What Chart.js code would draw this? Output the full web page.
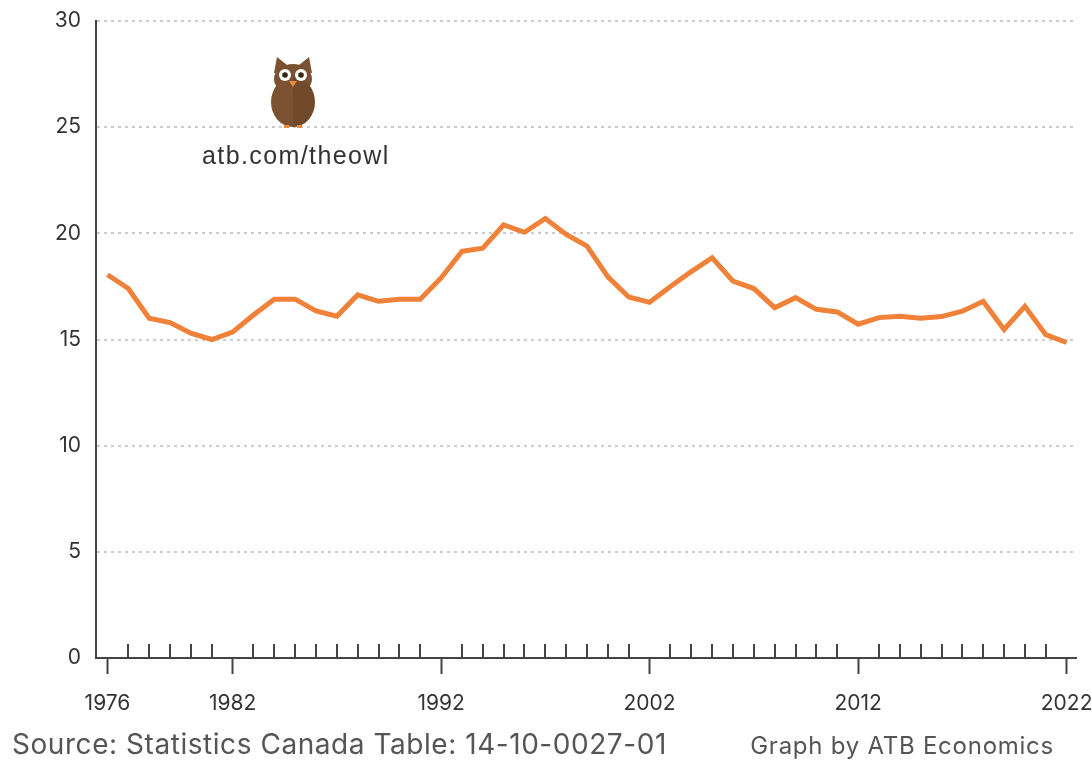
<!DOCTYPE html>
<html>
<head>
<meta charset="utf-8">
<script src="https://cdn.jsdelivr.net/npm/chart.js@4/dist/chart.umd.min.js"></script>
<style>
  html, body { margin: 0; padding: 0; background: #fff; }
  #wrap { position: relative; width: 1092px; height: 762px; }
  canvas { position: absolute; left: 0; top: 0; }
  .note { position: absolute; font-family: Inter, 'Noto Sans', sans-serif; color: #555; white-space: nowrap; }
  #source { left: 12px; top: 727px; font-size: 28px; letter-spacing: 0.55px; }
  #credit { right: 38px; top: 731px; font-size: 24px; letter-spacing: 0.75px; }
  #owlurl { left: 202px; top: 141px; font-family: 'Liberation Sans', Arial, sans-serif; font-size: 25px; letter-spacing: 1.4px; color: #333; }
</style>
</head>
<body>
<div id="wrap">
  <canvas id="chart" width="1092" height="762"></canvas>
  <div class="note" id="owlurl">atb.com/theowl</div>
  <div class="note" id="source">Source: Statistics Canada Table: 14-10-0027-01</div>
  <div class="note" id="credit">Graph by ATB Economics</div>
</div>
<script>
'use strict';

// ===== Data =====
const years = [];
for (let y = 1976; y <= 2022; y++) years.push(y);

const values = [
  18.05, 17.4, 16.0, 15.8, 15.3, 15.0, 15.35, 16.15, 16.9, 16.9,
  16.35, 16.1, 17.1, 16.8, 16.9, 16.9, 17.9, 19.15, 19.3, 20.4,
  20.05, 20.7, 19.95, 19.4, 17.95, 17.0, 16.75, 17.5, 18.2, 18.85,
  17.75, 17.4, 16.5, 16.97, 16.42, 16.3, 15.72, 16.03, 16.1, 16.0,
  16.08, 16.33, 16.8, 15.47, 16.56, 15.23, 14.86
];

const labelYears = [1976, 1982, 1992, 2002, 2012, 2022];
const yTicks = [0, 5, 10, 15, 20, 25, 30];

const lineColor = '#ef8139';
const axisColor = '#444';
const gridColor = '#cccccc';
const textColor = '#333';
const fontFamily = "Inter, 'Noto Sans', sans-serif";

// minor ticks pointing up at every unlabelled year
const minorTicks = {
  id: 'minorTicks',
  afterDraw(chart) {
    const x = chart.scales.x, ctx = chart.ctx;
    const base = chart.chartArea.bottom;
    ctx.save();
    ctx.strokeStyle = axisColor;
    ctx.lineWidth = 2;
    years.forEach(yr => {
      if (labelYears.includes(yr)) return;
      const px = Math.round(x.getPixelForValue(yr));
      ctx.beginPath();
      ctx.moveTo(px, base);
      ctx.lineTo(px, base - 14);
      ctx.stroke();
    });
    ctx.restore();
  }
};

// little owl logo
const owl = {
  id: 'owl',
  afterDraw(chart) {
    const ctx = chart.ctx;
    const cx = chart.chartArea.left + 197, top = 57;
    ctx.save();
    ctx.fillStyle = '#7a5131';
    // ears
    ctx.beginPath();
    ctx.moveTo(cx - 19, top + 16);
    ctx.lineTo(cx - 16, top);
    ctx.lineTo(cx - 6, top + 8);
    ctx.lineTo(cx + 6, top + 8);
    ctx.lineTo(cx + 16, top);
    ctx.lineTo(cx + 19, top + 16);
    ctx.closePath();
    ctx.fill();
    // head + body
    ctx.beginPath();
    ctx.ellipse(cx, top + 45, 22, 25, 0, 0, Math.PI * 2);
    ctx.fill();
    ctx.beginPath();
    ctx.ellipse(cx, top + 22, 19, 15, 0, 0, Math.PI * 2);
    ctx.fill();
    // darker right half
    ctx.fillStyle = 'rgba(60,35,15,0.15)';
    ctx.beginPath();
    ctx.ellipse(cx, top + 45, 22, 25, 0, -Math.PI / 2, Math.PI / 2);
    ctx.fill();
    // eyes
    ctx.fillStyle = '#fff';
    [-8, 8].forEach(dx => {
      ctx.beginPath();
      ctx.arc(cx + dx, top + 18, 6, 0, Math.PI * 2);
      ctx.fill();
    });
    ctx.fillStyle = '#3a2614';
    [-8, 8].forEach(dx => {
      ctx.beginPath();
      ctx.arc(cx + dx, top + 18, 2.8, 0, Math.PI * 2);
      ctx.fill();
    });
    // beak
    ctx.fillStyle = '#f08a3a';
    ctx.beginPath();
    ctx.moveTo(cx - 4, top + 24);
    ctx.lineTo(cx + 4, top + 24);
    ctx.lineTo(cx, top + 30);
    ctx.closePath();
    ctx.fill();
    // feet
    ctx.fillRect(cx - 9, top + 68, 5, 3);
    ctx.fillRect(cx + 4, top + 68, 5, 3);
    ctx.restore();
  }
};

const ctx = document.getElementById('chart');
new Chart(ctx, {
  type: 'line',
  data: {
    datasets: [{
      data: years.map((yr, i) => ({ x: yr, y: values[i] })),
      borderColor: lineColor,
      borderWidth: 5,
      pointRadius: 0,
      tension: 0,
      fill: false
    }]
  },
  options: {
    responsive: false,
    animation: false,
    layout: { padding: { left: 0, right: 16, top: 21, bottom: 0 } },
    plugins: { legend: { display: false }, tooltip: { enabled: false } },
    scales: {
      x: {
        type: 'linear',
        min: 1975.45,
        max: 2022.45,
        afterBuildTicks: s => { s.ticks = labelYears.map(v => ({ value: v })); },
        afterFit: s => { s.height = 104; s.paddingLeft = 0; s.paddingRight = 0; },
        border: { display: true, color: axisColor, width: 2 },
        grid: { display: true, drawOnChartArea: false, drawTicks: true, tickLength: 16, tickColor: axisColor, tickWidth: 2 },
        ticks: { color: textColor, font: { family: fontFamily, size: 21 }, padding: 17, maxRotation: 0, autoSkip: false, callback: v => String(v) }
      },
      y: {
        min: 0,
        max: 30,
        afterBuildTicks: s => { s.ticks = yTicks.map(v => ({ value: v })); },
        afterFit: s => { s.width = 96; s.paddingTop = 0; s.paddingBottom = 0; },
        border: { display: true, color: axisColor, width: 2, dash: [3, 4] },
        grid: { color: gridColor, lineWidth: 2, drawTicks: false },
        ticks: { color: textColor, font: { family: fontFamily, size: 21 }, padding: 15 }
      }
    }
  },
  plugins: [minorTicks, owl]
});
</script>
</body>
</html>
